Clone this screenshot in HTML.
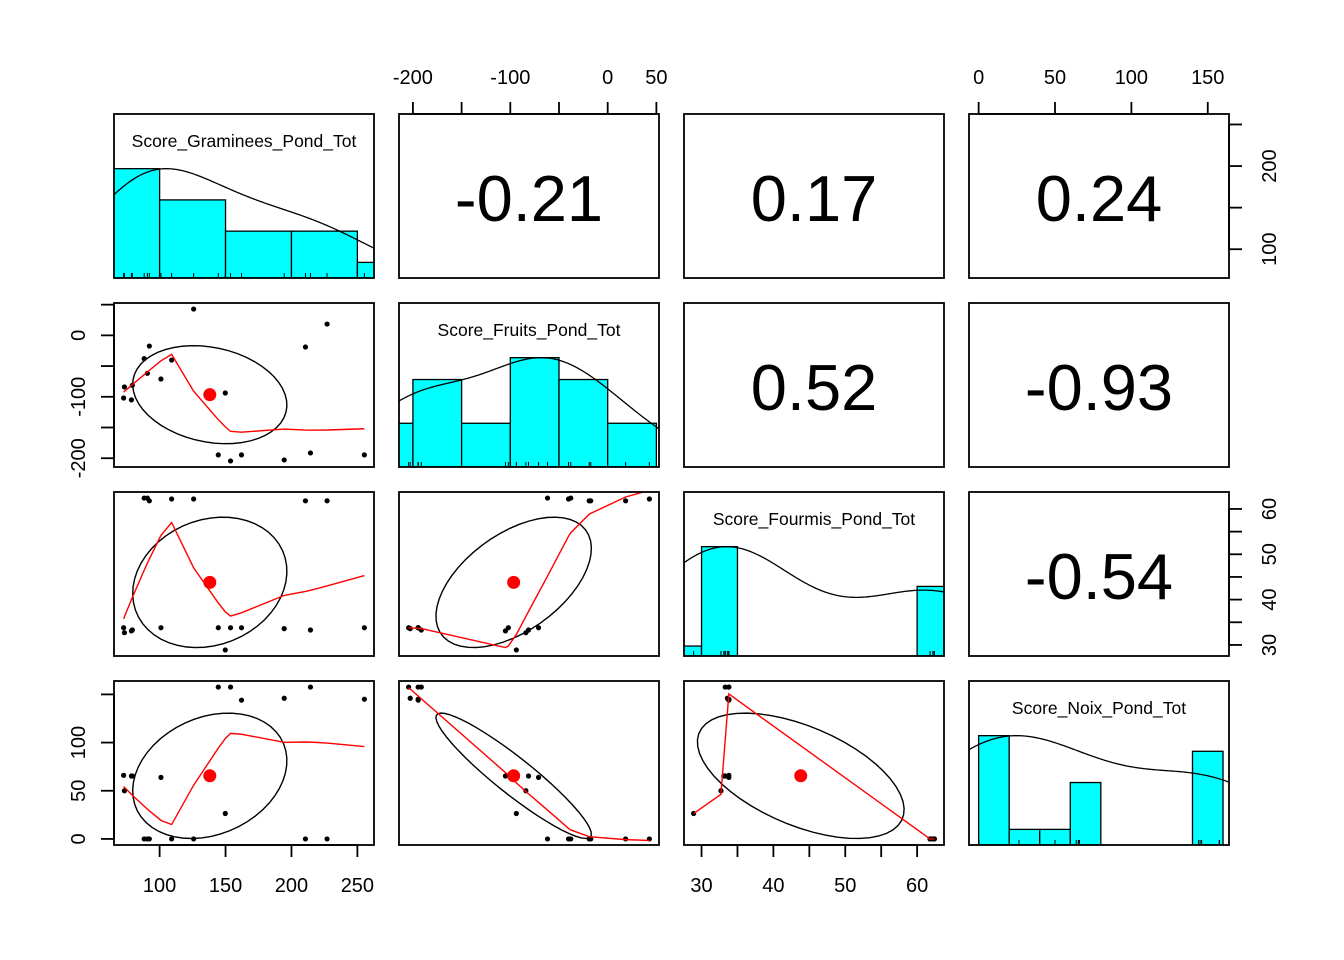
<!DOCTYPE html>
<html><head><meta charset="utf-8">
<style>
html,body{margin:0;padding:0;background:#fff;}
svg{display:block;font-family:"Liberation Sans",Arial,sans-serif;}
</style></head>
<body>
<svg id="chart" width="1344" height="960" viewBox="0 0 1344 960" xmlns="http://www.w3.org/2000/svg">
<rect width="1344" height="960" fill="#fff"/>
</svg>
<script>
// ---- data (19 observations) ----
const varNames = ["Score_Graminees_Pond_Tot","Score_Fruits_Pond_Tot","Score_Fourmis_Pond_Tot","Score_Noix_Pond_Tot"];
const graminees = [125.8,227.0,92.2,210.6,88.3,109.1,90.7,101.0,73.3,79.3,72.7,78.6,149.8,144.5,153.8,162.1,194.5,214.4,255.3];
const fruits = [42.8,18.4,-17.4,-19.0,-37.9,-40.2,-61.8,-71.0,-84.0,-81.3,-102.0,-105.0,-93.8,-194.6,-204.4,-194.6,-202.8,-191.4,-194.6];
const fourmis = [62.2,61.8,61.8,61.8,62.4,62.2,62.4,33.8,32.7,33.3,33.8,33.1,28.9,33.8,33.8,33.8,33.6,33.3,33.8];
const noix = [0,0,0,0,0,0,0,63.9,50.0,65.3,66.0,65.3,26.4,157.6,157.6,144.0,146.0,157.6,145.0];
// printed correlations (upper panels), pairs: [G-F, G-Fo, G-N, F-Fo, F-N, Fo-N]
const corrPairs = [[0,1],[0,2],[0,3],[1,2],[1,3],[2,3]];
const corrValues = [-0.21,0.17,0.24,0.52,-0.93,-0.54];
// axis ticks and labels
const gTicks = [100,150,200,250];      const gLabels = [100,150,200,250];   const gRightLabels = [100,200];
const fTicks = [-200,-150,-100,-50,0,50]; const fTopLabels = [-200,-100,0,50]; const fLeftLabels = [-200,-100,0];
const foTicks = [30,35,40,45,50,55,60]; const foLabels = [30,40,50,60];
const nTicks = [0,50,100,150];         const nTopLabels = [0,50,100,150];   const nLeftLabels = [0,50,100];

const data = [graminees, fruits, fourmis, noix];
const NS = "http://www.w3.org/2000/svg";
const svg = document.getElementById("chart");
const colX = [114,399,684,969], rowY = [114,303,492,681], PW = 260, PH = 164;

function el(tag, attrs, parent){ const e=document.createElementNS(NS,tag); for(const k in attrs) e.setAttribute(k,attrs[k]); (parent||svg).appendChild(e); return e; }
const mean = a => a.reduce((s,v)=>s+v,0)/a.length;
const sd = a => { const m=mean(a); return Math.sqrt(a.reduce((s,v)=>s+(v-m)*(v-m),0)/(a.length-1)); };
function getCor(a,b){ const lo=Math.min(a,b), hi=Math.max(a,b); for(let k=0;k<corrPairs.length;k++){ if(corrPairs[k][0]===lo && corrPairs[k][1]===hi) return corrValues[k]; } return 0; }
function extRange(a){ const lo=Math.min(...a), hi=Math.max(...a), d=(hi-lo)*0.04; return [lo-d,hi+d]; }
const ranges = data.map(extRange);
function X(v,j){ return colX[j] + (v-ranges[j][0])/(ranges[j][1]-ranges[j][0])*PW; }
function Y(v,i){ return rowY[i] + PH - (v-ranges[i][0])/(ranges[i][1]-ranges[i][0])*PH; }

function pretty(lo,hi,n){
  const dx=hi-lo; const cell=dx/n; const h=1.5, h5=0.5+1.5*h;
  const U=Math.pow(10,Math.floor(Math.log10(cell))); let unit=U;
  if(2*U-cell < h*(cell-unit)){ unit=2*U; if(5*U-cell < h5*(cell-unit)){ unit=5*U; if(10*U-cell < h*(cell-unit)) unit=10*U; } }
  let ns=Math.floor(lo/unit+1e-7), nu=Math.ceil(hi/unit-1e-7);
  while(ns*unit > lo+1e-7*unit) ns--; while(nu*unit < hi-1e-7*unit) nu++;
  const b=[]; for(let k=ns;k<=nu;k++) b.push(k*unit); return b;
}
function quant(a,p){ const s=[...a].sort((x,y)=>x-y); const hh=(s.length-1)*p; const lo=Math.floor(hh); return s[lo]+(hh-lo)*((s[Math.min(lo+1,s.length-1)])-s[lo]); }

function lowess(xin,yin,f,iter){
  const n=xin.length; const idx=[...Array(n).keys()].sort((a,b)=>xin[a]-xin[b]);
  const x=idx.map(i=>xin[i]), y=idx.map(i=>yin[i]);
  const ns=Math.max(Math.min(Math.floor(f*n+1e-7),n),2);
  const range=x[n-1]-x[0]; let rw=new Array(n).fill(1); let ys=new Array(n).fill(0);
  for(let it=0; it<=iter; it++){
    let nleft=0, nright=ns-1;
    for(let i=0;i<n;i++){
      while(nright<n-1 && x[i]-x[nleft] > x[nright+1]-x[i]){nleft++;nright++;}
      const hdist=Math.max(x[i]-x[nleft], x[nright]-x[i]); const h9=0.999*hdist, h1=0.001*hdist;
      const w=new Array(n).fill(0); let a=0; let j=nleft, nrt=nright;
      while(j<n){ const r=Math.abs(x[j]-x[i]); if(r<=h9){ if(r<=h1) w[j]=1; else w[j]=Math.pow(1-Math.pow(r/hdist,3),3); w[j]*=rw[j]; a+=w[j]; } else if(x[j]>x[i]) break; nrt=j; j++; }
      if(a<=0){ ys[i]=y[i]; continue; }
      for(let k=nleft;k<=nrt;k++) w[k]/=a;
      if(hdist>0){ let aa=0; for(let k=nleft;k<=nrt;k++) aa+=w[k]*x[k]; let b=x[i]-aa, c=0; for(let k=nleft;k<=nrt;k++) c+=w[k]*(x[k]-aa)*(x[k]-aa);
        if(Math.sqrt(c)>0.001*range){ b/=c; for(let k=nleft;k<=nrt;k++) w[k]*=(b*(x[k]-aa)+1); } }
      let s=0; for(let k=nleft;k<=nrt;k++) s+=w[k]*y[k]; ys[i]=s;
    }
    if(it>=iter) break;
    const res=y.map((v,k)=>v-ys[k]); const ar=res.map(Math.abs).sort((p,q)=>p-q);
    const m1=Math.floor(n/2); const med = n%2? ar[m1] : (ar[m1-1]+ar[m1])/2; const cmad=6*med;
    if(cmad < 1e-7*mean(y.map(Math.abs))) break;
    rw=res.map(r=>{ const u=Math.abs(r)/cmad; return u<0.001?1:(u>0.999?0:(1-u*u)**2); });
  }
  return {x, y:ys};
}

const defs = el("defs",{});
for(let i=0;i<4;i++) for(let j=0;j<4;j++){
  const cp=el("clipPath",{id:`cp${i}${j}`},defs); el("rect",{x:colX[j],y:rowY[i],width:PW,height:PH},cp);
}

for(let i=0;i<4;i++){
  for(let j=0;j<4;j++){
    const g = el("g",{"clip-path":`url(#cp${i}${j})`});
    
    
    const x0=colX[j], y0=rowY[i];
    if(i===j){
      const v=data[i]; const n=v.length;
      const k=Math.ceil(Math.log2(n)+1);
      const br=pretty(Math.min(...v),Math.max(...v),k);
      const counts=new Array(br.length-1).fill(0);
      v.forEach(val=>{ for(let b=0;b<br.length-1;b++){ if((val>br[b] || (b===0 && val>=br[b])) && val<=br[b+1]){counts[b]++;break;} } });
      const mx=Math.max(...counts);
      const yv = u => y0+PH - u/1.5*PH;
      counts.forEach((c,b)=>{
        const r=el("rect",{x:X(br[b],j),y:yv(c/mx),width:X(br[b+1],j)-X(br[b],j),height:yv(0)-yv(c/mx),fill:"#00ffff",stroke:"#000","stroke-width":1.3},g);
        
        
      });
      const s=sd(v), iqr=quant(v,0.75)-quant(v,0.25);
      const bw=1.2*1.06*Math.min(s, iqr/1.34)*Math.pow(n,-0.2);
      const lo=Math.min(...v)-3*bw, hi=Math.max(...v)+3*bw; const pts=[]; let dmax=0;
      for(let q=0;q<512;q++){ const xx=lo+(hi-lo)*q/511; let d=0; v.forEach(val=>{d+=Math.exp(-0.5*((xx-val)/bw)**2);}); pts.push([xx,d]); if(d>dmax)dmax=d; }
      const dl=el("polyline",{points:pts.map(p=>`${X(p[0],j).toFixed(2)},${yv(p[1]/dmax).toFixed(2)}`).join(" "),fill:"none",stroke:"#000","stroke-width":1.3},g);
      
      
      v.forEach(val=>{ const rl=el("line",{x1:X(val,j),x2:X(val,j),y1:y0+PH,y2:y0+PH-5,stroke:"#000","stroke-width":1},g);
        
         });
      const t=el("text",{x:x0+PW/2,y:y0+33,"text-anchor":"middle","font-size":17.5});
      t.textContent=varNames[i];
      
      
    } else if(i<j){
      const r=getCor(i,j);
      const t=el("text",{x:x0+PW/2,y:y0+PH/2+25,"text-anchor":"middle","font-size":65});
      t.textContent=r.toFixed(2);
      
      
    } else {
      const xs=data[j], ys=data[i];
      xs.forEach((xv,k)=>{ const c=el("circle",{cx:X(xv,j),cy:Y(ys[k],i),r:2.6,fill:"#000"},g);
        
         });
      const r=getCor(i,j), mx=mean(xs), my=mean(ys), sdx=sd(xs), sdy=sd(ys);
      const th=(Math.abs(r)>0? Math.sign(r):1)/Math.SQRT2, a=Math.sqrt(1+r), b=Math.sqrt(1-r);
      const ep=[];
      for(let q=0;q<=51;q++){ const ang=q*2*Math.PI/51, c=Math.cos(ang), s=Math.sin(ang);
        const ex=c*a*th - s*b*th, ey=c*a*th + s*b*th;
        ep.push(`${X(ex*sdx+mx,j).toFixed(2)},${Y(ey*sdy+my,i).toFixed(2)}`); }
      const ell=el("polyline",{points:ep.join(" "),fill:"none",stroke:"#000","stroke-width":1.4},g);
      
      
      const lw=lowess(xs,ys,2/3,3);
      const sl=el("polyline",{points:lw.x.map((xv,k)=>`${X(xv,j).toFixed(2)},${Y(lw.y[k],i).toFixed(2)}`).join(" "),fill:"none",stroke:"#ff0000","stroke-width":1.4},g);
      
      
      const md=el("circle",{cx:X(mx,j),cy:Y(my,i),r:6.5,fill:"#ff0000"},g);
      
      
    }
    const box=el("rect",{x:x0,y:y0,width:PW,height:PH,fill:"none",stroke:"#000","stroke-width":1.8});
    
    
  }
}

function hAxis(j, ticks, labels, side, name){
  const ax=el("g",{});
  
  
  const yb = side==="top"? rowY[0] : rowY[3]+PH;
  const dir = side==="top"? -1 : 1;
  el("line",{x1:X(ticks[0],j),x2:X(ticks[ticks.length-1],j),y1:yb,y2:yb,stroke:"#000","stroke-width":1.8},ax);
  ticks.forEach(t=>{ el("line",{x1:X(t,j),x2:X(t,j),y1:yb,y2:yb+dir*12,stroke:"#000","stroke-width":1.8},ax); });
  labels.forEach(l=>{ const t=el("text",{x:X(l,j),y: side==="top"? 84 : 892,"text-anchor":"middle","font-size":20},ax); t.textContent=l;
    
     });
}
function vAxis(i, ticks, labels, side, name){
  const ax=el("g",{});
  
  
  const xb = side==="left"? colX[0] : colX[3]+PW;
  const dir = side==="left"? -1 : 1;
  el("line",{x1:xb,x2:xb,y1:Y(ticks[0],i),y2:Y(ticks[ticks.length-1],i),stroke:"#000","stroke-width":1.8},ax);
  ticks.forEach(t=>{ el("line",{x1:xb,x2:xb+dir*13,y1:Y(t,i),y2:Y(t,i),stroke:"#000","stroke-width":1.8},ax); });
  labels.forEach(l=>{ const bx= side==="left"? 85 : 1276; const t=el("text",{x:bx,y:Y(l,i),"text-anchor":"middle","font-size":20,transform:`rotate(-90 ${bx} ${Y(l,i)})`},ax); t.textContent=l;
    
     });
}
hAxis(0, gTicks, gLabels, "bottom", "graminees-x-axis");
hAxis(2, foTicks, foLabels, "bottom", "fourmis-x-axis");
hAxis(1, fTicks, fTopLabels, "top", "fruits-x-axis");
hAxis(3, nTicks, nTopLabels, "top", "noix-x-axis");
vAxis(1, fTicks, fLeftLabels, "left", "fruits-y-axis");
vAxis(3, nTicks, nLeftLabels, "left", "noix-y-axis");
vAxis(0, gTicks, gRightLabels, "right", "graminees-y-axis");
vAxis(2, foTicks, foLabels, "right", "fourmis-y-axis");
</script>
</body></html>
